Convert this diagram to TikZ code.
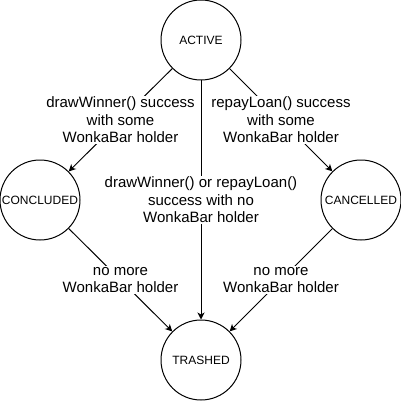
\documentclass[tikz,border=0pt]{standalone}
\usepackage{fontspec}
\setmainfont{Liberation Sans}
\usetikzlibrary{arrows.meta}

\tikzset{
  statenode/.style={draw, circle, line width=1pt, minimum size=80pt, inner sep=0pt,
    font=\fontsize{12}{14}\selectfont},
  trans/.style={line width=1pt, -{Stealth[length=7pt,width=7pt,inset=2pt]}},
  lbl/.style={fill=white, align=center, inner sep=1pt,
    font=\fontsize{15}{17.5}\selectfont},
}

\begin{document}
\begin{tikzpicture}[x=1pt,y=-1pt]
      \useasboundingbox (0,0) rectangle (401,401);
      % states
      \node[statenode] (active)    at (201,40)  {ACTIVE};
      \node[statenode] (concluded) at (40,200)  {CONCLUDED};
      \node[statenode] (cancelled) at (361,200) {CANCELLED};
      \node[statenode] (trashed)   at (201,360) {TRASHED};
      % from active
      \draw[trans] (active) -- node[lbl] {drawWinner() success\\with some\\WonkaBar holder} (concluded);
      \draw[trans] (active) -- node[lbl] {repayLoan() success\\with some\\WonkaBar holder} (cancelled);
      \draw[trans] (active) -- node[lbl] {drawWinner() or repayLoan()\\success with no\\WonkaBar holder} (trashed);
      % to trashed
      \draw[trans] (concluded) -- node[lbl] {no more\\WonkaBar holder} (trashed);
      \draw[trans] (cancelled) -- node[lbl] {no more\\WonkaBar holder} (trashed);
    \end{tikzpicture}
\end{document}
